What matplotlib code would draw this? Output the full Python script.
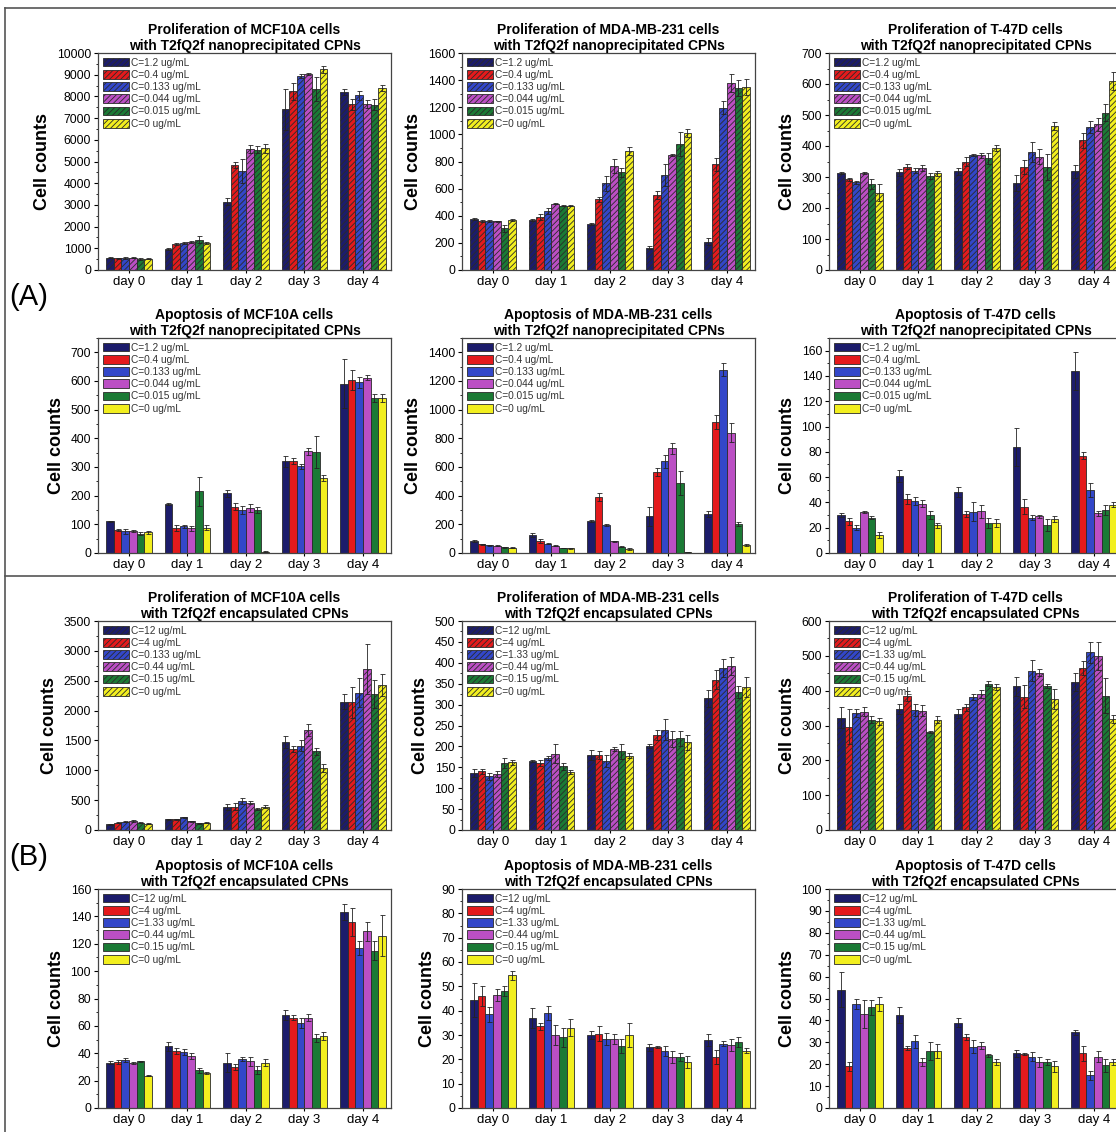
import matplotlib.pyplot as plt
import numpy as np
from matplotlib.ticker import MultipleLocator, AutoMinorLocator
from matplotlib.lines import Line2D

plt.rcParams['font.family'] = 'Liberation Sans'
plt.rcParams['hatch.linewidth'] = 0.6

days = ['day 0', 'day 1', 'day 2', 'day 3', 'day 4']
colors = ['#1c1c6b', '#e41a1c', '#3347c9', '#bb4fc4', '#1b7a35', '#f2ef1f']

labels_nano = ['C=1.2 ug/mL', 'C=0.4 ug/mL', 'C=0.133 ug/mL',
               'C=0.044 ug/mL', 'C=0.015 ug/mL', 'C=0 ug/mL']
labels_enc = ['C=12 ug/mL', 'C=4 ug/mL', 'C=1.33 ug/mL',
              'C=0.44 ug/mL', 'C=0.15 ug/mL', 'C=0 ug/mL']
labels_enc_mcf = ['C=12 ug/mL', 'C=4 ug/mL', 'C=0.133 ug/mL',
                  'C=0.44 ug/mL', 'C=0.15 ug/mL', 'C=0 ug/mL']

# one row per day, six concentrations per row (highest -> 0)
# (A) nanoprecipitated CPNs
mcf_prol_nano = [[560, 540, 550, 560, 500, 520],
                 [950, 1200, 1250, 1280, 1400, 1230],
                 [3150, 4830, 4550, 5580, 5550, 5600],
                 [7400, 8230, 8950, 9030, 8350, 9250],
                 [8200, 7630, 8050, 7650, 7620, 8380]]
mcf_prol_nano_err = [[30, 30, 30, 30, 30, 30],
                     [50, 50, 40, 40, 150, 50],
                     [150, 150, 550, 200, 150, 200],
                     [950, 400, 80, 50, 550, 150],
                     [150, 250, 200, 200, 250, 150]]

mda_prol_nano = [[375, 362, 362, 358, 308, 368],
                 [368, 392, 435, 488, 475, 475],
                 [338, 520, 638, 765, 720, 875],
                 [165, 552, 700, 848, 930, 1010],
                 [210, 778, 1198, 1380, 1342, 1350]]
mda_prol_nano_err = [[10, 5, 10, 5, 25, 10],
                     [5, 20, 20, 5, 5, 5],
                     [5, 15, 55, 50, 35, 30],
                     [10, 30, 80, 5, 90, 30],
                     [25, 45, 45, 65, 60, 60]]

t47_prol_nano = [[312, 293, 283, 312, 277, 250],
                 [315, 333, 320, 330, 303, 312],
                 [318, 350, 372, 370, 360, 393],
                 [280, 332, 382, 366, 332, 465],
                 [318, 418, 462, 470, 508, 610]]
t47_prol_nano_err = [[3, 5, 5, 3, 15, 28],
                     [12, 8, 8, 10, 10, 8],
                     [12, 15, 3, 8, 18, 10],
                     [25, 22, 32, 25, 42, 12],
                     [22, 25, 20, 20, 28, 30]]

mcf_apop_nano = [[110, 80, 75, 76, 68, 73],
                 [172, 87, 93, 86, 215, 88],
                 [208, 162, 150, 157, 150, 5],
                 [320, 322, 302, 355, 352, 262],
                 [590, 603, 595, 612, 540, 540]]
mcf_apop_nano_err = [[3, 3, 8, 4, 5, 5],
                     [3, 10, 5, 8, 50, 8],
                     [12, 12, 15, 15, 10, 1],
                     [20, 10, 10, 12, 55, 10],
                     [85, 35, 20, 8, 15, 15]]

mda_apop_nano = [[85, 62, 55, 52, 40, 38],
                 [125, 85, 65, 50, 35, 33],
                 [222, 390, 195, 82, 45, 28],
                 [255, 565, 640, 730, 490, 8],
                 [270, 915, 1280, 840, 200, 55]]
mda_apop_nano_err = [[5, 3, 3, 3, 3, 3],
                     [15, 15, 5, 3, 3, 3],
                     [5, 30, 8, 5, 5, 5],
                     [65, 30, 45, 40, 85, 1],
                     [20, 50, 45, 65, 15, 5]]

t47_apop_nano = [[30, 25, 20, 32.5, 28, 14],
                 [61, 43, 41, 39, 30, 22],
                 [48, 31, 32.5, 33, 24, 23.5],
                 [84, 36.5, 28, 29, 22, 27],
                 [144, 77, 50, 31.5, 34, 38]]
t47_apop_nano_err = [[1.5, 2.5, 2, 0.5, 1, 2.5],
                     [5, 4, 3, 3, 3, 2],
                     [4, 2.5, 7.5, 5, 4, 3],
                     [15, 6, 2, 1, 4.5, 2.5],
                     [15, 2.5, 5.5, 2, 4, 2]]

# (B) encapsulated CPNs
mcf_prol_enc = [[95, 125, 140, 150, 125, 108],
                [180, 180, 210, 145, 115, 125],
                [390, 390, 480, 460, 350, 390],
                [1480, 1360, 1410, 1680, 1320, 1040],
                [2150, 2140, 2300, 2700, 2280, 2430]]
mcf_prol_enc_err = [[10, 10, 10, 10, 10, 10],
                    [10, 10, 10, 10, 10, 10],
                    [50, 60, 50, 30, 20, 25],
                    [100, 50, 90, 100, 60, 70],
                    [130, 260, 240, 420, 240, 180]]

mda_prol_enc = [[136, 140, 128, 134, 160, 162],
                [165, 160, 172, 183, 152, 138],
                [180, 180, 165, 193, 188, 178],
                [200, 228, 240, 218, 220, 210],
                [315, 360, 388, 393, 330, 342]]
mda_prol_enc_err = [[10, 5, 8, 8, 12, 6],
                    [3, 8, 5, 22, 8, 5],
                    [12, 10, 15, 5, 18, 6],
                    [5, 12, 25, 20, 18, 18],
                    [20, 22, 22, 22, 15, 25]]

t47_prol_enc = [[322, 296, 336, 340, 316, 312],
                [348, 385, 344, 343, 282, 316],
                [334, 352, 382, 390, 420, 410],
                [412, 383, 457, 452, 413, 376],
                [425, 465, 510, 500, 386, 318]]
t47_prol_enc_err = [[30, 50, 12, 12, 10, 10],
                    [15, 15, 18, 15, 3, 10],
                    [12, 10, 8, 12, 8, 8],
                    [27, 32, 30, 10, 5, 28],
                    [25, 20, 30, 40, 50, 12]]

mcf_apop_enc = [[33, 33.5, 35, 33, 34, 23.5],
                [45, 41.5, 41, 38, 27.5, 25.5],
                [33, 30, 36, 34, 28, 33],
                [68, 66, 62, 66, 51, 52.5],
                [143, 136, 117, 129, 115, 126]]
mcf_apop_enc_err = [[1, 1.5, 1.5, 0.5, 0.5, 0.3],
                    [3, 2, 2, 2, 2, 0.5],
                    [7, 2, 1.5, 3, 3, 2.5],
                    [3.5, 2, 3.5, 2.5, 3, 3],
                    [6, 10, 5, 7, 7, 15]]

mda_apop_enc = [[44.5, 46, 38.5, 46.5, 48, 54.5],
                [37, 33.5, 39, 30, 29, 33],
                [30, 30.5, 28.5, 28.5, 25.5, 30],
                [25, 25, 23.5, 21, 21, 19],
                [28, 21, 26.5, 26, 27, 23.5]]
mda_apop_enc_err = [[7, 4, 3, 2.5, 2, 2],
                    [4, 1.5, 3, 4, 4, 3.5],
                    [1.5, 3, 2.5, 2, 3, 5],
                    [1.5, 0.5, 2, 2.5, 1.5, 2.5],
                    [2.5, 3, 1, 2.5, 2, 1]]

t47_apop_enc = [[54, 19, 47.5, 43, 46, 47.5],
                [42.5, 27.5, 30.5, 21, 26, 26],
                [39, 32.5, 28, 28.5, 24, 21],
                [25, 24.5, 23.5, 21, 21, 19],
                [34.5, 25, 15, 23.5, 19.5, 21]]
t47_apop_enc_err = [[8, 2, 2.5, 6.5, 3.5, 3],
                    [3.5, 1, 3, 2, 4, 3],
                    [2, 1.5, 3, 1.5, 0.5, 1.5],
                    [1.5, 0.5, 2, 2.5, 1.5, 2.5],
                    [1, 3.5, 2, 2.5, 3, 1.5]]

W, H = 1116, 1132
fig = plt.figure(figsize=(W / 100, H / 100), dpi=100)

col_left = [98, 462, 829]
ax_w = 293
rows_px = [(53, 270), (338, 553), (621, 830), (889, 1108)]

panels = [
    (0, 0, 'Proliferation of MCF10A cells\nwith T2fQ2f nanoprecipitated CPNs',
     mcf_prol_nano, mcf_prol_nano_err, 10000, 1000, labels_nano, True),
    (0, 1, 'Proliferation of MDA-MB-231 cells\nwith T2fQ2f nanoprecipitated CPNs',
     mda_prol_nano, mda_prol_nano_err, 1600, 200, labels_nano, True),
    (0, 2, 'Proliferation of T-47D cells\nwith T2fQ2f nanoprecipitated CPNs',
     t47_prol_nano, t47_prol_nano_err, 700, 100, labels_nano, True),
    (1, 0, 'Apoptosis of MCF10A cells\nwith T2fQ2f nanoprecipitated CPNs',
     mcf_apop_nano, mcf_apop_nano_err, 750, 100, labels_nano, False),
    (1, 1, 'Apoptosis of MDA-MB-231 cells\nwith T2fQ2f nanoprecipitated CPNs',
     mda_apop_nano, mda_apop_nano_err, 1500, 200, labels_nano, False),
    (1, 2, 'Apoptosis of T-47D cells\nwith T2fQ2f nanoprecipitated CPNs',
     t47_apop_nano, t47_apop_nano_err, 170, 20, labels_nano, False),
    (2, 0, 'Proliferation of MCF10A cells\nwith T2fQ2f encapsulated CPNs',
     mcf_prol_enc, mcf_prol_enc_err, 3500, 500, labels_enc_mcf, True),
    (2, 1, 'Proliferation of MDA-MB-231 cells\nwith T2fQ2f encapsulated CPNs',
     mda_prol_enc, mda_prol_enc_err, 500, 50, labels_enc, True),
    (2, 2, 'Proliferation of T-47D cells\nwith T2fQ2f encapsulated CPNs',
     t47_prol_enc, t47_prol_enc_err, 600, 100, labels_enc, True),
    (3, 0, 'Apoptosis of MCF10A cells\nwith T2fQ2f encapsulated CPNs',
     mcf_apop_enc, mcf_apop_enc_err, 160, 20, labels_enc, False),
    (3, 1, 'Apoptosis of MDA-MB-231 cells\nwith T2fQ2f encapsulated CPNs',
     mda_apop_enc, mda_apop_enc_err, 90, 10, labels_enc, False),
    (3, 2, 'Apoptosis of T-47D cells\nwith T2fQ2f encapsulated CPNs',
     t47_apop_enc, t47_apop_enc_err, 100, 10, labels_enc, False),
]

x = np.arange(len(days))
w = 0.13

for r, c, title, vals, errs, ymax, step, labels, hatched in panels:
    top, bot = rows_px[r]
    ax = fig.add_axes([col_left[c] / W, 1 - bot / H, ax_w / W, (bot - top) / H])
    vals = np.asarray(vals, dtype=float)
    errs = np.asarray(errs, dtype=float)
    for i in range(6):
        ax.bar(x + (i - 2.5) * w, vals[:, i], w, color=colors[i],
               edgecolor='#2a2a2a', linewidth=0.6,
               hatch='//////' if hatched else None,
               yerr=errs[:, i], capsize=1.8,
               error_kw=dict(elinewidth=0.6, capthick=0.6, ecolor='#222222'),
               label=labels[i])
    ax.set_xlim(-0.53, 4.48)
    ax.set_ylim(0, ymax)
    ax.set_xticks(x)
    ax.set_xticklabels(days, fontsize=9.5)
    ax.yaxis.set_major_locator(MultipleLocator(step))
    ax.yaxis.set_minor_locator(AutoMinorLocator(2))
    ax.tick_params(axis='y', labelsize=8.7, direction='out', length=3, width=0.8, pad=2)
    ax.tick_params(axis='y', which='minor', length=1.8, width=0.6)
    ax.tick_params(axis='x', direction='out', length=2.5, width=0.8, pad=2)
    for s in ax.spines.values():
        s.set_color('#444444')
        s.set_linewidth(0.9)
    ax.set_title(title, fontsize=10, fontweight='bold', pad=2, linespacing=1.2)
    ax.set_ylabel('Cell counts', fontsize=13, fontweight='bold', labelpad=4)
    ax.legend(loc='upper left', fontsize=7.3, frameon=False, handlelength=2.6,
              handleheight=0.95, labelspacing=0.22, handletextpad=0.25,
              borderaxespad=0.25, borderpad=0.2, labelcolor='#333333')

# section frames and labels
frame = dict(transform=fig.transFigure, color='#555555', lw=1.2)
fig.add_artist(Line2D([5 / W, 1], [1 - 8 / H, 1 - 8 / H], **frame))
fig.add_artist(Line2D([5 / W, 5 / W], [0, 1 - 8 / H], **frame))
fig.add_artist(Line2D([5 / W, 1], [1 - 576 / H, 1 - 576 / H], **frame))
fig.text(9 / W, 1 - 297 / H, '(A)', fontsize=21, va='center', ha='left')
fig.text(9 / W, 1 - 857 / H, '(B)', fontsize=21, va='center', ha='left')

fig.savefig('out.png', dpi=100)
